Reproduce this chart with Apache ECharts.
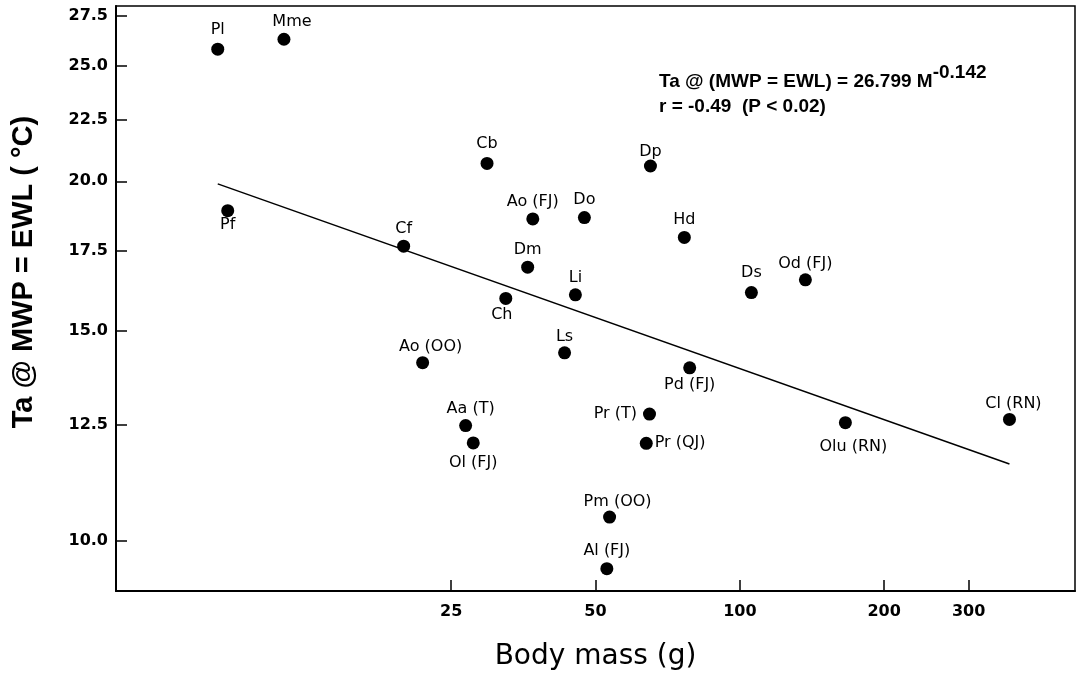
<!DOCTYPE html>
<html>
<head>
<meta charset="utf-8">
<script src="https://cdn.jsdelivr.net/npm/echarts@6/dist/echarts.min.js"></script>
<style>
html,body{margin:0;padding:0;background:#fff;}
#chart{width:1076px;height:676px;}
</style>
</head>
<body>
<div id="chart"></div>
<script>
// ---- data ----
const species = ['Pl','Mme','Pf','Cf','Cb','Dp','Ao (FJ)','Do','Hd','Dm','Li','Ds','Od (FJ)','Ch','Ao (OO)','Ls','Pd (FJ)','Aa (T)','Ol (FJ)','Pr (T)','Pr (QJ)','Olu (RN)','Cl (RN)','Pm (OO)','Al (FJ)'];
const bodyMass = [8.15, 11.2, 8.55, 19.9, 29.7, 65.1, 37.0, 47.4, 76.6, 36.1, 45.4, 105.7, 137, 32.5, 21.8, 43.1, 78.6, 26.8, 27.8, 64.8, 63.8, 166, 365, 53.5, 52.8];
const taAtMwpEwl = [25.8, 26.3, 18.9, 17.65, 20.7, 20.6, 18.6, 18.65, 17.95, 16.95, 16.07, 16.14, 16.54, 15.96, 14.1, 14.37, 13.96, 12.49, 12.08, 12.77, 12.07, 12.56, 12.64, 10.47, 9.48];
const fitMass = [8.15, 365];
const fitTa = [19.9, 11.6];
const xTicks = [25, 50, 100, 200, 300];
const yTicks = [10, 12.5, 15, 17.5, 20, 22.5, 25, 27.5];
const equationLine1 = 'Ta @ (MWP = EWL) = 26.799 M';
const equationExp = '-0.142';
const equationLine2 = 'r = -0.49  (P < 0.02)';

// ---- label placement (layout only) ----
const labelLayout = {
  'Pl': {position: 'top', distance: 5},
  'Mme': {position: 'top', distance: 3, offset: [8, 0]},
  'Pf': {position: 'bottom', distance: 0},
  'Cf': {position: 'top', distance: 3},
  'Cb': {position: 'top', distance: 5},
  'Dp': {position: 'top', distance: 0},
  'Ao (FJ)': {position: 'top', distance: 3},
  'Do': {position: 'top', distance: 3},
  'Hd': {position: 'top', distance: 3},
  'Dm': {position: 'top', distance: 3},
  'Li': {position: 'top', distance: 2},
  'Ds': {position: 'top', distance: 5},
  'Od (FJ)': {position: 'top', distance: 2},
  'Ch': {position: 'bottom', distance: 2, offset: [-4, 0]},
  'Ao (OO)': {position: 'top', distance: 1, offset: [8, 0]},
  'Ls': {position: 'top', distance: 1},
  'Pd (FJ)': {position: 'bottom', distance: 2},
  'Aa (T)': {position: 'top', distance: 2, offset: [5, 0]},
  'Ol (FJ)': {position: 'bottom', distance: 5},
  'Pr (T)': {position: 'left', distance: 6},
  'Pr (QJ)': {position: 'right', distance: 2},
  'Olu (RN)': {position: 'bottom', distance: 10, offset: [8, 0]},
  'Cl (RN)': {position: 'top', distance: 1, offset: [4, 0]},
  'Pm (OO)': {position: 'top', distance: 1, offset: [8, 0]},
  'Al (FJ)': {position: 'top', distance: 3}
};

const pointLabelFont = {fontFamily: 'DejaVu Sans', fontSize: 16, color: '#000'};
const pointData = species.map((name, i) => {
  const lay = labelLayout[name] || {position: 'top', distance: 3};
  return {
    name: name,
    value: [bodyMass[i], taAtMwpEwl[i]],
    label: Object.assign({show: true, formatter: name}, pointLabelFont, lay)
  };
});
const fitData = fitMass.map((m, i) => [m, fitTa[i]]);

const tickFont = {fontFamily: 'DejaVu Sans', fontWeight: 'bold', fontSize: 16, color: '#000'};

const chart = echarts.init(document.getElementById('chart'), null, {renderer: 'canvas'});
chart.setOption({
  animation: false,
  backgroundColor: '#fff',
  grid: {left: 116, right: 1, top: 6, bottom: 85, show: true, borderColor: '#000', borderWidth: 1.5, backgroundColor: 'transparent'},
  xAxis: {
    type: 'log', logBase: 10, min: 5, max: 500,
    name: 'Body mass (g)', nameLocation: 'middle', nameGap: 52,
    nameTextStyle: {fontFamily: 'DejaVu Sans', fontSize: 28, color: '#000'},
    axisLine: {show: true, lineStyle: {color: '#000', width: 2}},
    axisTick: {show: true, inside: true, length: 11, customValues: xTicks, lineStyle: {color: '#000', width: 1.5}},
    axisLabel: Object.assign({show: true, margin: 13, customValues: xTicks, formatter: v => String(Math.round(v))}, tickFont),
    minorTick: {show: false},
    splitLine: {show: false}
  },
  yAxis: {
    type: 'log', logBase: 10, min: 9.08, max: 28.04,
    axisLine: {show: true, lineStyle: {color: '#000', width: 2}},
    axisTick: {show: true, inside: true, length: 11, customValues: yTicks, lineStyle: {color: '#000', width: 1.5}},
    axisLabel: Object.assign({show: true, margin: 8, customValues: yTicks, formatter: v => (Math.round(v * 10) / 10).toFixed(1)}, tickFont),
    splitLine: {show: false}
  },
  graphic: [
    {
      type: 'text', x: 24, y: 272, rotation: Math.PI / 2,
      style: {text: 'Ta @ MWP = EWL ( °C)', fontFamily: 'Liberation Sans', fontWeight: 'bold', fontSize: 29, fill: '#000', align: 'center', verticalAlign: 'middle'}
    },
    {
      type: 'text', x: 659, y: 82,
      style: {
        text: '{a|' + equationLine1 + '}{s|' + equationExp + '}',
        verticalAlign: 'middle', align: 'left', fill: '#000',
        rich: {
          a: {fontFamily: 'Liberation Sans', fontWeight: 'bold', fontSize: 19, verticalAlign: 'middle', fill: '#000'},
          s: {fontFamily: 'Liberation Sans', fontWeight: 'bold', fontSize: 19, verticalAlign: 'top', padding: [0, 0, 18, 0], fill: '#000'}
        }
      }
    },
    {
      type: 'text', x: 659, y: 107,
      style: {text: equationLine2, fontFamily: 'Liberation Sans', fontWeight: 'bold', fontSize: 19, fill: '#000', align: 'left', verticalAlign: 'middle'}
    }
  ],
  series: [
    {
      type: 'line', data: fitData, symbol: 'none', silent: true,
      lineStyle: {color: '#000', width: 1.5}, z: 2
    },
    {
      type: 'scatter', data: pointData, symbol: 'circle', symbolSize: 13,
      itemStyle: {color: '#000', opacity: 1},
      label: Object.assign({show: true}, pointLabelFont),
      z: 3
    }
  ]
});
</script>
</body>
</html>
